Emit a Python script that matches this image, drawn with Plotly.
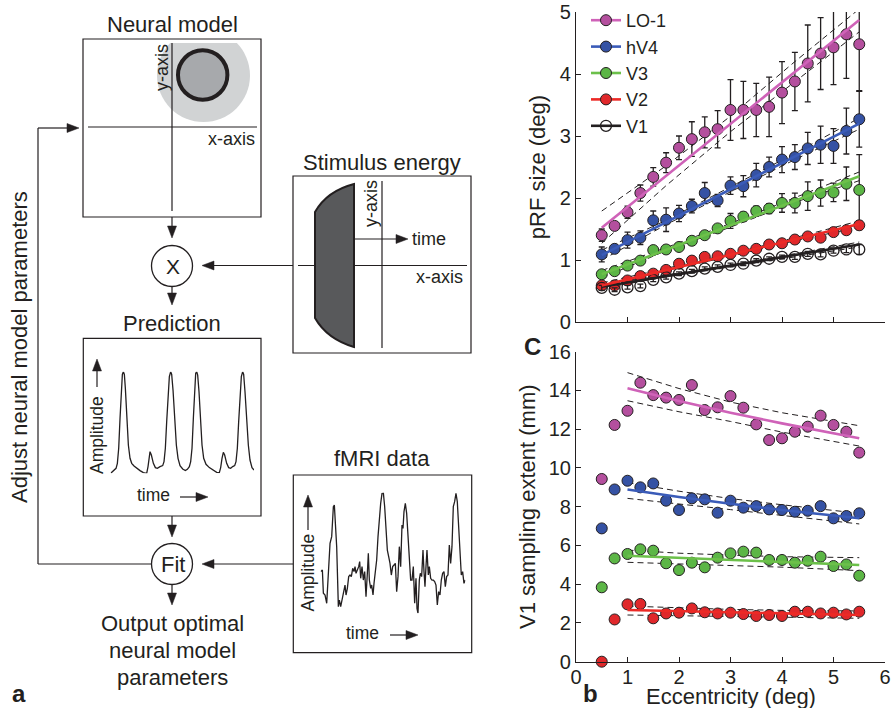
import plotly.graph_objects as go

W, H = 893, 708
FONT = "Liberation Sans, Arial, Helvetica, sans-serif"
INK = "#231f20"

# ---------------- Panel b (top): pRF size vs eccentricity ----------------
ecc = [0.5, 0.75, 1.0, 1.25, 1.5, 1.75, 2.0, 2.25, 2.5, 2.75, 3.0,
       3.25, 3.5, 3.75, 4.0, 4.25, 4.5, 4.75, 5.0, 5.25, 5.5]
areas = ["LO-1", "hV4", "V3", "V2", "V1"]

prf_LO1 = [1.40, 1.55, 1.77, 2.08, 2.34, 2.57, 2.81, 2.95, 3.06, 3.11, 3.42,
           3.42, 3.42, 3.47, 3.70, 3.88, 4.17, 4.33, 4.43, 4.64, 4.48]
prf_LO1_err = [0.10, 0.06, 0.10, 0.13, 0.15, 0.16, 0.19, 0.28, 0.25, 0.30, 0.49,
               0.46, 0.43, 0.48, 0.50, 0.47, 0.62, 0.58, 0.60, 0.71, 0.75]
prf_hV4 = [1.09, 1.18, 1.32, 1.36, 1.64, 1.65, 1.75, 1.87, 2.08, 1.96, 2.20,
           2.19, 2.37, 2.50, 2.62, 2.66, 2.80, 2.86, 2.84, 3.08, 3.27]
prf_hV4_err = [0.12, 0.05, 0.13, 0.11, 0.15, 0.19, 0.13, 0.11, 0.17, 0.10, 0.14,
               0.17, 0.19, 0.16, 0.21, 0.20, 0.26, 0.30, 0.28, 0.37, 0.45]
prf_V3 = [0.77, 0.82, 0.91, 0.99, 1.16, 1.17, 1.21, 1.31, 1.40, 1.51, 1.63,
          1.70, 1.79, 1.83, 1.92, 1.92, 2.03, 2.08, 2.09, 2.23, 2.13]
prf_V3_err = [0.04, 0.04, 0.04, 0.04, 0.04, 0.04, 0.05, 0.05, 0.06, 0.06, 0.12,
              0.07, 0.08, 0.08, 0.15, 0.16, 0.23, 0.21, 0.15, 0.27, 0.57]
prf_V2 = [0.59, 0.59, 0.67, 0.74, 0.78, 0.84, 0.94, 0.99, 1.05, 1.06, 1.10,
          1.15, 1.18, 1.25, 1.27, 1.33, 1.38, 1.36, 1.45, 1.48, 1.56]
prf_V2_err = [0.04, 0.03, 0.03, 0.03, 0.04, 0.04, 0.04, 0.04, 0.04, 0.04, 0.04,
              0.04, 0.04, 0.04, 0.04, 0.04, 0.05, 0.05, 0.05, 0.06, 0.07]
prf_V1 = [0.55, 0.52, 0.56, 0.58, 0.68, 0.72, 0.78, 0.82, 0.86, 0.89, 0.92,
          0.94, 0.99, 1.02, 1.05, 1.05, 1.10, 1.09, 1.15, 1.17, 1.17]
prf_V1_err = [0.04, 0.03, 0.03, 0.03, 0.03, 0.03, 0.03, 0.03, 0.03, 0.03, 0.03,
              0.03, 0.03, 0.03, 0.03, 0.04, 0.04, 0.04, 0.04, 0.05, 0.08]

prf_fit_x = [0.5, 5.5]
prf_fit_LO1 = [1.52, 4.87]
prf_fit_hV4 = [1.08, 3.20]
prf_fit_V3 = [0.77, 2.35]
prf_fit_V2 = [0.59, 1.58]
prf_fit_V1 = [0.57, 1.25]

prf_ci_x = [0.5, 1.75, 3.0, 4.25, 5.5]
prf_ci_LO1_hi = [1.79, 2.52, 3.32, 4.20, 5.05]
prf_ci_LO1_lo = [1.27, 2.20, 3.07, 3.87, 4.68]
prf_ci_hV4_hi = [1.16, 1.64, 2.18, 2.72, 3.29]
prf_ci_hV4_lo = [1.00, 1.57, 2.10, 2.62, 3.11]
prf_ci_V3_hi = [0.83, 1.20, 1.59, 2.00, 2.42]
prf_ci_V3_lo = [0.71, 1.15, 1.53, 1.93, 2.28]
prf_ci_V2_hi = [0.63, 0.87, 1.10, 1.36, 1.63]
prf_ci_V2_lo = [0.55, 0.83, 1.06, 1.31, 1.53]
prf_ci_V1_hi = [0.60, 0.76, 0.92, 1.10, 1.29]
prf_ci_V1_lo = [0.54, 0.73, 0.89, 1.05, 1.21]

# ---------------- Panel c (bottom): V1 sampling extent ----------------
samp_LO1 = [9.43, 12.22, 12.95, 14.40, 13.76, 13.63, 13.51, 14.28, 12.99, 13.13, 13.71,
            13.11, 12.25, 11.44, 11.53, 11.87, 12.13, 12.70, 12.22, 11.87, 10.79]
samp_hV4 = [6.88, 8.89, 9.34, 9.00, 9.20, 8.31, 7.83, 8.43, 8.38, 7.69, 8.31,
            7.95, 8.03, 7.86, 7.83, 7.74, 7.79, 8.03, 7.40, 7.52, 7.66]
samp_V3 = [3.84, 5.33, 5.56, 5.80, 5.73, 5.08, 4.73, 5.11, 4.87, 5.37, 5.59,
           5.68, 5.63, 5.25, 5.25, 5.11, 5.21, 5.42, 4.94, 5.02, 4.44]
samp_V2 = [0.00, 2.18, 2.96, 2.98, 2.24, 2.49, 2.53, 2.75, 2.55, 2.49, 2.53,
           2.46, 2.36, 2.41, 2.36, 2.58, 2.58, 2.49, 2.53, 2.44, 2.58]

samp_fit_x = [1.0, 2.0, 3.0, 4.0, 5.5]
samp_fit_LO1 = [14.11, 13.45, 12.85, 12.30, 11.53]
samp_ci_LO1_hi = [14.92, 14.10, 13.40, 12.85, 12.18]
samp_ci_LO1_lo = [13.47, 12.90, 12.40, 11.85, 11.13]
samp_fit_hV4 = [8.89, 8.50, 8.15, 7.83, 7.40]
samp_ci_hV4_hi = [9.24, 8.80, 8.42, 8.10, 7.66]
samp_ci_hV4_lo = [8.43, 8.15, 7.85, 7.55, 7.11]
samp_fit_V3 = [5.47, 5.36, 5.25, 5.14, 4.99]
samp_ci_V3_hi = [5.76, 5.60, 5.50, 5.42, 5.37]
samp_ci_V3_lo = [5.13, 5.05, 4.97, 4.88, 4.70]
samp_fit_V2 = [2.67, 2.61, 2.55, 2.49, 2.41]
samp_ci_V2_hi = [2.87, 2.78, 2.70, 2.65, 2.62]
samp_ci_V2_lo = [2.41, 2.38, 2.34, 2.30, 2.24]

# ---------------- Panel a: illustrative time courses ----------------
pred_t = [92, 100, 108, 112, 116, 120, 124, 127, 130, 133, 136, 140, 145, 150, 155, 162,
          170, 180, 190, 200, 204, 207, 210, 214, 220, 226, 232, 240, 248, 252, 256, 260,
          264, 268, 272, 275, 279, 284, 289, 294, 300, 308, 316, 322, 328, 332, 336, 340,
          344, 347, 350, 353, 357, 362, 366, 371, 378, 388, 398, 410, 418, 422, 426, 430,
          434, 440, 446, 452, 458, 464, 468, 472, 476, 480, 484, 488, 491, 495, 500, 505,
          510, 516, 522]
pred_amp = [0.00, 0.23, 0.50, 1.00, 2.50, 5.50, 8.50, 9.90, 10.17, 9.90, 8.50, 5.50, 2.83,
            1.50, 1.00, 0.73, 0.50, 0.27, 0.07, 0.00, 0.67, 1.67, 2.17, 1.83, 1.00, 0.57,
            0.50, 0.67, 0.77, 1.17, 2.50, 5.17, 7.83, 9.67, 10.17, 9.90, 8.33, 5.50, 2.83,
            1.50, 0.77, 0.43, 0.27, 0.40, 0.67, 1.17, 2.50, 5.50, 8.67, 10.00, 10.17, 9.83,
            8.17, 5.17, 2.83, 1.50, 0.90, 0.57, 0.33, 0.10, 0.07, 0.57, 1.50, 2.10, 1.83,
            1.00, 0.57, 0.50, 0.67, 0.77, 1.17, 2.50, 5.17, 7.83, 9.67, 10.17, 9.90, 8.17,
            5.17, 2.83, 1.33, 0.57, 0.33]

fmri_t = [92, 97, 100, 105, 110, 115, 120, 125, 130, 133, 137, 140, 145, 148, 152, 156,
          160, 165, 168, 172, 176, 180, 184, 188, 192, 195, 198, 202, 206, 209, 212, 216,
          220, 224, 228, 232, 235, 238, 242, 245, 249, 252, 256, 260, 264, 268, 272, 276,
          280, 284, 288, 292, 296, 300, 304, 308, 312, 316, 320, 324, 328, 332, 336, 339,
          342, 346, 350, 354, 358, 362, 366, 370, 374, 378, 381, 384, 388, 391, 395, 399,
          402, 405, 408, 411, 415, 418, 422, 426, 430, 434, 438, 442, 446, 450, 454, 458,
          462, 466, 470, 474, 478, 482, 486, 490, 494, 498, 502, 506, 510, 514, 518, 522, 526]
fmri_amp = [4.17, 4.33, 2.00, 1.83, 1.00, 4.00, 7.00, 7.67, 10.67, 10.83, 8.33, 6.67, 0.67,
            1.33, 0.67, 1.33, 2.33, 2.83, 1.83, 2.50, 3.67, 3.83, 3.67, 4.50, 4.17, 4.67,
            4.00, 4.33, 4.67, 5.17, 3.50, 4.67, 3.33, 4.17, 1.67, 4.00, 6.00, 3.33, 2.50,
            2.83, 1.83, 3.00, 4.00, 5.33, 7.67, 9.67, 11.00, 12.00, 12.07, 10.67, 8.00, 6.33,
            5.67, 5.00, 3.83, 4.67, 4.83, 5.00, 2.17, 3.67, 6.67, 4.67, 8.83, 8.50, 10.17,
            11.00, 10.00, 7.33, 5.00, 3.33, 3.33, 4.67, 1.00, 3.50, 0.50, 0.00, 3.33, 4.00,
            3.67, 6.33, 4.17, 2.67, 4.67, 6.33, 3.83, 4.67, 3.50, 3.33, 3.33, 3.17, 2.83,
            0.83, 2.17, 1.83, 3.33, 4.00, 4.17, 2.67, 3.67, 3.83, 6.83, 5.00, 6.67, 10.67,
            11.17, 12.00, 11.17, 9.00, 6.67, 3.83, 4.17, 3.00, 3.33]

# ---------------- styling ----------------
marker_fill = {"LO-1": "#b44f9e", "hV4": "#3552a4", "V3": "#5cb646",
               "V2": "#e0282b", "V1": "rgba(0,0,0,0)"}
line_color = {"LO-1": "#cf62b8", "hV4": "#3a5bb8", "V3": "#6cc04a",
              "V2": "#ec2a26", "V1": INK}

prf = {"LO-1": (prf_LO1, prf_LO1_err, prf_fit_LO1, prf_ci_LO1_hi, prf_ci_LO1_lo),
       "hV4": (prf_hV4, prf_hV4_err, prf_fit_hV4, prf_ci_hV4_hi, prf_ci_hV4_lo),
       "V3": (prf_V3, prf_V3_err, prf_fit_V3, prf_ci_V3_hi, prf_ci_V3_lo),
       "V2": (prf_V2, prf_V2_err, prf_fit_V2, prf_ci_V2_hi, prf_ci_V2_lo),
       "V1": (prf_V1, prf_V1_err, prf_fit_V1, prf_ci_V1_hi, prf_ci_V1_lo)}
samp = {"LO-1": (samp_LO1, samp_fit_LO1, samp_ci_LO1_hi, samp_ci_LO1_lo),
        "hV4": (samp_hV4, samp_fit_hV4, samp_ci_hV4_hi, samp_ci_hV4_lo),
        "V3": (samp_V3, samp_fit_V3, samp_ci_V3_hi, samp_ci_V3_lo),
        "V2": (samp_V2, samp_fit_V2, samp_ci_V2_hi, samp_ci_V2_lo)}


def marker_style(a):
    if a == "V1":
        return dict(symbol="circle-open", size=11, color=INK, line=dict(color=INK, width=1.3))
    return dict(symbol="circle", size=11, color=marker_fill[a], line=dict(color=INK, width=1))


dash = dict(color=INK, width=1, dash="6px,4px")
fig = go.Figure()

# top panel
for a in areas:
    y, err, fit, hi, lo = prf[a]
    for ci in (hi, lo):
        fig.add_trace(go.Scatter(x=prf_ci_x, y=ci, mode="lines", line=dash,
                                 showlegend=False, xaxis="x", yaxis="y"))
for a in areas:
    y, err, fit, hi, lo = prf[a]
    fig.add_trace(go.Scatter(x=ecc, y=y, mode="markers", marker=marker_style(a),
                             error_y=dict(type="data", array=err, color=INK, thickness=1.3, width=3),
                             showlegend=False, xaxis="x", yaxis="y"))
for a in areas[::-1]:
    y, err, fit, hi, lo = prf[a]
    fig.add_trace(go.Scatter(x=prf_fit_x, y=fit, mode="lines",
                             line=dict(color=line_color[a], width=2.6),
                             showlegend=False, xaxis="x", yaxis="y"))
for a in areas:
    fig.add_trace(go.Scatter(x=[None], y=[None], mode="lines+markers", name=a,
                             marker=marker_style(a),
                             line=dict(color=line_color[a], width=2.6),
                             xaxis="x", yaxis="y"))

# bottom panel
for a in ["LO-1", "hV4", "V3", "V2"]:
    y, fit, hi, lo = samp[a]
    for ci in (hi, lo):
        fig.add_trace(go.Scatter(x=samp_fit_x, y=ci, mode="lines", line=dash,
                                 showlegend=False, xaxis="x2", yaxis="y2"))
for a in ["LO-1", "hV4", "V3", "V2"]:
    y, fit, hi, lo = samp[a]
    fig.add_trace(go.Scatter(x=ecc, y=y, mode="markers", marker=marker_style(a),
                             cliponaxis=False, showlegend=False, xaxis="x2", yaxis="y2"))
    fig.add_trace(go.Scatter(x=samp_fit_x, y=fit, mode="lines",
                             line=dict(color=line_color[a], width=2.6),
                             showlegend=False, xaxis="x2", yaxis="y2"))

# diagram time courses
fig.add_trace(go.Scatter(x=pred_t, y=pred_amp, mode="lines", line=dict(color=INK, width=1.3),
                         showlegend=False, xaxis="x4", yaxis="y4"))
fig.add_trace(go.Scatter(x=fmri_t, y=fmri_amp, mode="lines", line=dict(color=INK, width=1.3),
                         showlegend=False, xaxis="x5", yaxis="y5"))


def dom_x(p0, p1):
    return [p0 / W, p1 / W]


def dom_y(top, bottom):
    return [1 - bottom / H, 1 - top / H]


axis_common = dict(showgrid=False, zeroline=False, showline=True, linecolor=INK, linewidth=1.2,
                   ticks="inside", ticklen=5, tickwidth=1.2, tickcolor=INK, automargin=False,
                   tickfont=dict(family=FONT, size=20, color=INK), fixedrange=True)
title_font = dict(family=FONT, size=22, color=INK)

hidden = dict(visible=False, showgrid=False, zeroline=False, fixedrange=True, automargin=False)

fig.update_layout(
    width=W, height=H, margin=dict(l=0, r=0, t=0, b=0, pad=0, autoexpand=False),
    paper_bgcolor="white", plot_bgcolor="rgba(0,0,0,0)",
    font=dict(family=FONT, color=INK),
    xaxis=dict(axis_common, domain=dom_x(576, 885), range=[0, 6], dtick=1,
               showticklabels=False, anchor="y"),
    yaxis=dict(axis_common, domain=dom_y(12, 322), range=[0, 5], dtick=1, anchor="x",
               title=dict(text="pRF size (deg)", font=title_font, standoff=8)),
    xaxis2=dict(axis_common, domain=dom_x(576, 885), range=[0, 6], dtick=1, anchor="y2",
                ticklabelstandoff=-3),
    yaxis2=dict(axis_common, domain=dom_y(351.7, 661.7), range=[0, 16], dtick=2, anchor="x2",
                title=dict(text="V1 sampling extent (mm)", font=title_font, standoff=6)),
    xaxis3=dict(hidden, domain=[0, 1], range=[0, W], anchor="y3"),
    yaxis3=dict(hidden, domain=[0, 1], range=[H, 0], anchor="x3"),
    xaxis4=dict(hidden, domain=dom_x(110.7, 254), range=[92, 522], anchor="y4"),
    yaxis4=dict(hidden, domain=dom_y(371.7, 473.3), range=[0, 10.17], anchor="x4"),
    xaxis5=dict(hidden, domain=dom_x(320.7, 465.3), range=[92, 526], anchor="y5"),
    yaxis5=dict(hidden, domain=dom_y(492.7, 613.3), range=[0, 12.07], anchor="x5"),
    legend=dict(x=586 / W, y=1 - 2 / H, xanchor="left", yanchor="top",
                bgcolor="rgba(0,0,0,0)", font=dict(family=FONT, size=18, color=INK),
                tracegroupgap=0, itemwidth=30),
    showlegend=True,
)

# ---------------- diagram shapes (pixel coordinates on overlay axis) ----------------
shapes = []
annots = []


def S(**kw):
    d = dict(xref="x3", yref="y3", layer="above")
    d.update(kw)
    shapes.append(d)


def seg(x0, y0, x1, y1, w=1.2):
    S(type="line", x0=x0, y0=y0, x1=x1, y1=y1, line=dict(color=INK, width=w))


def rect(x0, y0, x1, y1, w=1.2, fill="rgba(0,0,0,0)"):
    S(type="rect", x0=x0, y0=y0, x1=x1, y1=y1, line=dict(color=INK, width=w), fillcolor=fill)


def head(tx, ty, d, L=12, hw=4.5):
    if d == "down":
        p = f"M {tx},{ty} L {tx-hw},{ty-L} L {tx+hw},{ty-L} Z"
    elif d == "up":
        p = f"M {tx},{ty} L {tx-hw},{ty+L} L {tx+hw},{ty+L} Z"
    elif d == "left":
        p = f"M {tx},{ty} L {tx+L},{ty-hw} L {tx+L},{ty+hw} Z"
    else:
        p = f"M {tx},{ty} L {tx-L},{ty-hw} L {tx-L},{ty+hw} Z"
    S(type="path", path=p, fillcolor=INK, line=dict(color=INK, width=0.5))


def T(x, y, s, size=22, angle=0, xanchor="center", bold=False):
    if bold:
        s = f"<b>{s}</b>"
    annots.append(dict(x=x, y=y, xref="x3", yref="y3", text=s, showarrow=False,
                       textangle=angle, xanchor=xanchor, yanchor="middle",
                       font=dict(family=FONT, size=size, color=INK)))


# x-axis title of the lower plot
T(730.5, 696, "Eccentricity (deg)")

# Neural model box
S(type="circle", x0=203.5 - 46.5, y0=75.5 - 46.5, x1=203.5 + 46.5, y1=75.5 + 46.5,
  fillcolor="#d1d3d4", line=dict(width=0))
S(type="rect", x0=150, y0=20, x1=258, y1=43, fillcolor="white", line=dict(width=0))
S(type="circle", x0=202.7 - 24.7, y0=75 - 24.7, x1=202.7 + 24.7, y1=75 + 24.7,
  fillcolor="#a7a9ac", line=dict(color=INK, width=4))
rect(83, 39, 261, 217)
seg(172, 43, 172, 211)
seg(88, 127, 257, 127)
T(172, 24, "Neural model")
T(162, 68, "y-axis", size=18, angle=-90)
T(257, 139, "x-axis", size=18, xanchor="right")

# multiply node
seg(172, 217, 172, 230)
head(172, 238, "down")
S(type="circle", x0=151.5, y0=245.5, x1=192.5, y1=286.5, line=dict(color=INK, width=1.3),
  fillcolor="white")
T(172.5, 266, "X", size=21)
seg(172, 286.5, 172, 296)
head(172, 305, "down")
seg(293, 265.5, 212, 265.5)
head(202, 265.5, "left")

# Stimulus energy box
T(382, 162, "Stimulus energy")
rect(293, 176, 471, 353)
seg(298, 265.5, 467, 265.5)
seg(382, 181, 382, 348)
S(type="path", path="M 315,212 Q 327,191 354,184 L 354,347 Q 327,339 315,318 Z",
  fillcolor="#58595b", line=dict(color=INK, width=2))
T(371, 204, "y-axis", size=18, angle=-90)
seg(355, 239, 396, 239)
head(408, 239, "right")
T(410, 239, "time", size=18, xanchor="left")
T(465, 277, "x-axis", size=18, xanchor="right")

# Prediction box
T(172, 323, "Prediction")
rect(83.3, 338.3, 261, 516)
T(97, 435, "Amplitude", size=17.5, angle=-90)
seg(97, 387, 97, 370)
head(97, 359, "up")
T(153, 495, "time", size=17.5)
seg(180, 497, 198, 497)
head(208, 497, "right")

# Fit node
seg(172, 516, 172, 528)
head(172, 537, "down")
S(type="circle", x0=151.5, y0=543.5, x1=192.5, y1=584.5, line=dict(color=INK, width=1.3),
  fillcolor="white")
T(172.5, 564, "Fit", size=22)
seg(172, 584.5, 172, 595)
head(172, 605, "down")
seg(293, 564, 212, 564)
head(202, 564, "left")

# feedback loop
seg(151.5, 564, 38, 564)
seg(38, 564, 38, 128)
seg(38, 128, 68, 128)
head(79, 128, "right")
T(19, 347, "Adjust neural model parameters", size=22, angle=-90)

# output text
T(172, 623, "Output optimal")
T(172, 650, "neural model")
T(172, 677, "parameters")

# fMRI box
T(382, 458, "fMRI data")
rect(293.3, 475, 471.7, 652.7)
T(307.5, 573, "Amplitude", size=17.5, angle=-90)
seg(308, 530, 308, 506)
head(308, 495, "up")
T(362.5, 633, "time", size=17.5)
seg(390, 635, 407, 635)
head(418, 635, "right")

# panel letters
T(19, 693, "a", size=24, bold=True)
T(590, 693, "b", size=24, bold=True)
T(532, 346, "C", size=24, bold=True)

fig.update_layout(shapes=shapes, annotations=annots)

fig.write_html("out.html", config={"displayModeBar": False},
               post_script="document.body.style.margin='0';document.body.style.overflow='hidden';")
